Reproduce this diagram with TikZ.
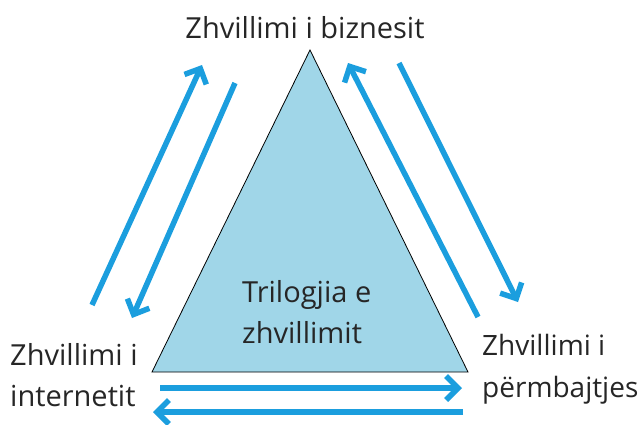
\documentclass[tikz,border=0pt]{standalone}
\usepackage{fontspec}
\setmainfont{Open Sans}
\usetikzlibrary{arrows.meta}
\definecolor{trifill}{RGB}{160,214,232}
\definecolor{arrowblue}{RGB}{27,158,222}
\begin{document}
\begin{tikzpicture}[x=1pt, y=-1pt,
		every node/.style={text=black!85, inner sep=0pt, font=\fontsize{29}{41}\selectfont, align=left},
		flow/.style={draw=arrowblue, line width=5.5pt, -{Straight Barb[length=12pt,width=24pt]}}]
		\useasboundingbox (0,0) rectangle (642,424);
		\coordinate (top) at (310,50);
		\coordinate (left) at (152,372);
		\coordinate (right) at (468,372);
		\filldraw[fill=trifill, draw=black, line width=0.8pt] (top) -- (left) -- (right) -- cycle;
		\node[anchor=base] (biznes) at (305,38) {Zhvillimi i biznesit};
		\node[anchor=base west] (trilogji) at (242,343) {Trilogjia e\\zhvillimit};
		\node[anchor=base west] (internet) at (10,406) {Zhvillimi i\\internetit};
		\node[anchor=base west, font=\fontsize{28}{42}\selectfont] (permbajtje) at (482,397) {Zhvillimi i\\përmbajtjes};
		% left pair
		\coordinate (l1a) at (92,305);
		\coordinate (l1b) at (202,65);
		\draw[flow] (l1a) -- (l1b);
		\coordinate (l2a) at (235,83);
		\coordinate (l2b) at (132,318);
		\draw[flow] (l2a) -- (l2b);
		% right pair
		\coordinate (r1a) at (478,317);
		\coordinate (r1b) at (348,63);
		\draw[flow] (r1a) -- (r1b);
		\coordinate (r2a) at (399,63);
		\coordinate (r2b) at (518,302);
		\draw[flow] (r2a) -- (r2b);
		% bottom pair
		\coordinate (b1a) at (160,388);
		\coordinate (b1b) at (462,388);
		\draw[flow] (b1a) -- (b1b);
		\coordinate (b2a) at (463,412);
		\coordinate (b2b) at (153,412);
		\draw[flow] (b2a) -- (b2b);
	\end{tikzpicture}
\end{document}
